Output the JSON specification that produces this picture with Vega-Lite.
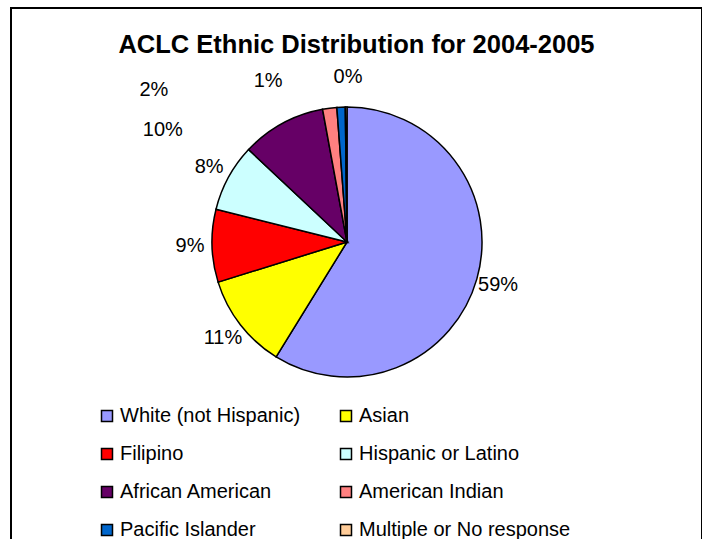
{
  "$schema": "https://vega.github.io/schema/vega-lite/v6.json",
  "autosize": {"type": "none"},
  "padding": {"left": 11, "top": 8, "right": 0, "bottom": 0},
  "width": 691,
  "height": 600,
  "background": "white",
  "config": {"view": {"stroke": "black", "strokeWidth": 2}, "font": "Liberation Sans"},
  "title": {"text": "ACLC Ethnic Distribution for 2004-2005", "fontSize": 25.5, "fontWeight": "bold", "font": "Liberation Sans", "color": "black", "anchor": "middle", "offset": -43, "dy": 30, "baseline": "alphabetic"},
  "data": {"values": [
    {"cat": "White (not Hispanic)", "value": 0.588, "order": 1},
    {"cat": "Asian", "value": 0.114, "order": 2},
    {"cat": "Filipino", "value": 0.087, "order": 3},
    {"cat": "Hispanic or Latino", "value": 0.081, "order": 4},
    {"cat": "African American", "value": 0.101, "order": 5},
    {"cat": "American Indian", "value": 0.017, "order": 6},
    {"cat": "Pacific Islander", "value": 0.010, "order": 7},
    {"cat": "Multiple or No response", "value": 0.002, "order": 8}
  ]},
  "layer": [
    {
      "mark": {"type": "point", "opacity": 0},
      "encoding": {
        "x": {"datum": 0, "type": "quantitative", "axis": null},
        "y": {"datum": 0, "type": "quantitative", "axis": null}
      }
    },
    {
      "mark": {"type": "arc", "radius": 135, "stroke": "black", "strokeWidth": 1.5, "x": {"expr": "width/2 - 9.5"}, "y": {"expr": "height/2 - 66"}},
      "encoding": {
        "theta": {"field": "value", "type": "quantitative", "stack": true},
        "order": {"field": "order", "type": "quantitative"},
        "color": {
          "field": "cat", "type": "nominal",
          "scale": {
            "domain": ["White (not Hispanic)", "Asian", "Filipino", "Hispanic or Latino", "African American", "American Indian", "Pacific Islander", "Multiple or No response"],
            "range": ["#9999FF", "#FFFF00", "#FF0000", "#CCFFFF", "#660066", "#FF8080", "#0066CC", "#FFCC99"]
          },
          "legend": {
            "orient": "none", "legendX": 86, "legendY": 398, "columns": 2, "direction": "horizontal", "title": null,
            "symbolType": "square", "symbolSize": 121, "symbolStrokeColor": "black", "symbolStrokeWidth": 1.5, "symbolOpacity": 1,
            "labelFontSize": 20, "labelFont": "Liberation Sans", "labelColor": "black", "labelLimit": 400,
            "rowPadding": 18, "columnPadding": 35, "labelOffset": 3, "padding": 0
          }
        }
      }
    },
    {
      "mark": {"type": "text", "radius": 157, "fontSize": 20, "font": "Liberation Sans", "color": "black", "x": {"expr": "width/2 - 9.5"}, "y": {"expr": "height/2 - 66"}},
      "encoding": {
        "theta": {"field": "value", "type": "quantitative", "stack": true},
        "order": {"field": "order", "type": "quantitative"},
        "text": {"field": "value", "type": "quantitative", "format": ".0%", "condition": {"test": "datum.order > 4", "value": ""}}
      }
    },
    {
      "mark": {"type": "text", "radius": 157, "fontSize": 20, "font": "Liberation Sans", "color": "black", "dx": -109, "dy": 26, "x": {"expr": "width/2 - 9.5"}, "y": {"expr": "height/2 - 66"}},
      "encoding": {
        "theta": {"field": "value", "type": "quantitative", "stack": true},
        "order": {"field": "order", "type": "quantitative"},
        "text": {"field": "value", "type": "quantitative", "format": ".0%", "condition": {"test": "datum.order !== 5", "value": ""}}
      }
    },
    {
      "mark": {"type": "text", "radius": 157, "fontSize": 20, "font": "Liberation Sans", "color": "black", "dx": -173, "dy": 4, "x": {"expr": "width/2 - 9.5"}, "y": {"expr": "height/2 - 66"}},
      "encoding": {
        "theta": {"field": "value", "type": "quantitative", "stack": true},
        "order": {"field": "order", "type": "quantitative"},
        "text": {"field": "value", "type": "quantitative", "format": ".0%", "condition": {"test": "datum.order !== 6", "value": ""}}
      }
    },
    {
      "mark": {"type": "text", "radius": 157, "fontSize": 20, "font": "Liberation Sans", "color": "black", "dx": -72, "dy": -4, "x": {"expr": "width/2 - 9.5"}, "y": {"expr": "height/2 - 66"}},
      "encoding": {
        "theta": {"field": "value", "type": "quantitative", "stack": true},
        "order": {"field": "order", "type": "quantitative"},
        "text": {"field": "value", "type": "quantitative", "format": ".0%", "condition": {"test": "datum.order !== 7", "value": ""}}
      }
    },
    {
      "mark": {"type": "text", "radius": 157, "fontSize": 20, "font": "Liberation Sans", "color": "black", "dx": 2, "dy": -8, "x": {"expr": "width/2 - 9.5"}, "y": {"expr": "height/2 - 66"}},
      "encoding": {
        "theta": {"field": "value", "type": "quantitative", "stack": true},
        "order": {"field": "order", "type": "quantitative"},
        "text": {"field": "value", "type": "quantitative", "format": ".0%", "condition": {"test": "datum.order !== 8", "value": ""}}
      }
    }
  ]
}
